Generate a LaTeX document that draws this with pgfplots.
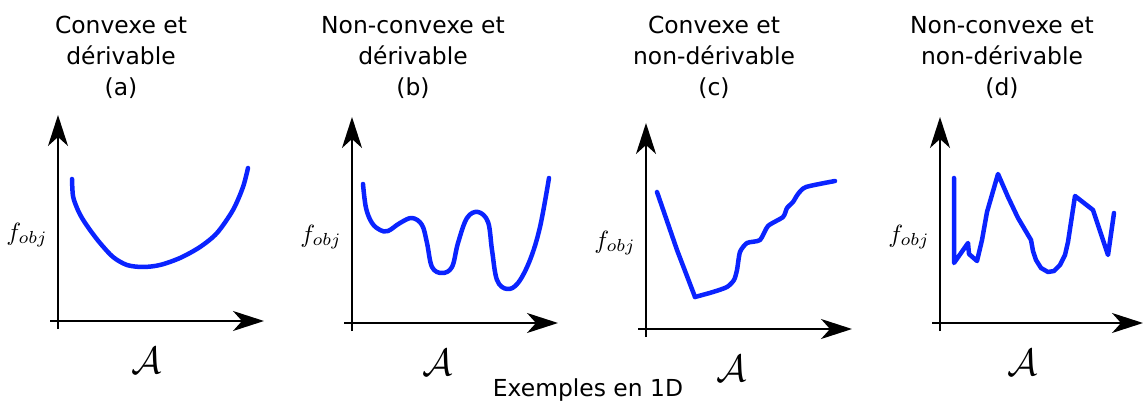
\documentclass[border=0pt]{standalone}
\usepackage{pgfplots}
\pgfplotsset{compat=1.18}
\usepackage{fontspec}
\setmainfont{DejaVu Sans}
\usetikzlibrary{arrows.meta}
\definecolor{curve}{RGB}{10,35,255}
\tikzset{axarrow/.style={line width=2bp, -{Stealth[length=31bp,width=20bp,inset=9bp]}}}
\pgfplotsset{
  panel/.style={scale only axis, width=214bp, height=214bp,
    xmin=-8, xmax=206, ymin=-8, ymax=206,
    hide axis, enlargelimits=false, clip=false, anchor=origin},
  crv/.style={curve, line width=4.5bp, line join=round, line cap=round},
}
\newcommand{\axs}[1]{\draw[axarrow] (axis cs:-8,0) -- (axis cs:#1,0);
  \draw[axarrow] (axis cs:0,-8) -- (axis cs:0,206);}
\newcommand{\flab}{\node[font=\fontsize{10}{10}\selectfont, scale=2.5] at (axis cs:-31,86) {$f_{obj}$};}
\newcommand{\alab}[1]{\node[font=\fontsize{10}{10}\selectfont, scale=3.8] at (axis cs:#1,-40) {$\mathcal{A}$};}
\begin{document}
\begin{tikzpicture}
\useasboundingbox (0,0) rectangle (1143bp,403bp);
% (a)
\begin{axis}[panel, at={(58bp,82bp)}]
\axs{206}
\addplot[crv, smooth, tension=0.5] coordinates {
(14,142) (15,125) (19,113) (24,103) (32,91) (42,78) (55,64) (69,56) (85,54) (102,56)
(122,63) (142,74) (159,88) (175,111) (185,134) (190,153)};
\flab \alab{89}
\end{axis}
% (b)
\begin{axis}[panel, at={(352bp,80bp)}]
\axs{206}
\addplot[crv, smooth, tension=0.6] coordinates {
(11,139) (14,115) (20,100) (28,93) (36,92) (48,100) (60,105) (70,98) (75,80)
(80,56) (90,50) (100,56) (106,80) (115,105) (126,111) (136,101)
(140,73) (145,43) (155,34) (166,40) (178,63) (188,96) (197,145)};
\flab \alab{86}
\end{axis}
% (c)
\begin{axis}[panel, at={(646bp,74bp)}]
\axs{206}
\addplot[crv] coordinates {(11,137) (31,79) (49,32)};
\addplot[crv, smooth, tension=0.4] coordinates {
(49,32) (67,37) (81,42) (88,49) (91,59) (94,77) (101,86) (114,89)
(122,103) (137,112) (141,121) (147,127) (152,135) (160,142) (189,148)};
\flab \alab{86}
\end{axis}
% (d)
\begin{axis}[panel, width=211bp, xmax=203, at={(940bp,80bp)}]
\axs{203}
\addplot[crv] coordinates {
(14,145) (14,60) (28,80) (29,69) (37,62) (42,83) (47,111) (58,149)
(68,126) (78,105) (91,83) (93,72) (96,63) (101,55) (108,51) (114,52)
(120,58) (125,68) (128,81) (135,127) (153,113) (168,68) (174,110)};
\flab \alab{83}
\end{axis}
\tikzset{ttl/.style={anchor=north, align=center, inner sep=0pt, font=\fontsize{23.5}{31}\selectfont}}
\node[ttl] at (121bp,387bp) {Convexe et\\dérivable\\(a)};
\node[ttl] at (413bp,387bp) {Non-convexe et\\dérivable\\(b)};
\node[ttl] at (714bp,387bp) {Convexe et\\non-dérivable\\(c)};
\node[ttl] at (1002bp,387bp) {Non-convexe et\\non-dérivable\\(d)};
\node[anchor=base, inner sep=0pt, font=\fontsize{23.5}{31}\selectfont] at (588bp,7bp) {Exemples en 1D};
\end{tikzpicture}
\end{document}
